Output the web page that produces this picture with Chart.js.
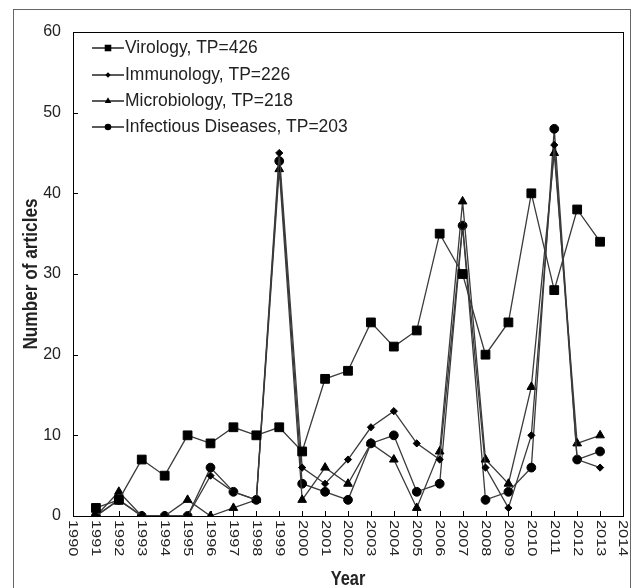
<!DOCTYPE html>
<html>
<head>
<meta charset="utf-8">
<script src="https://cdn.jsdelivr.net/npm/chart.js@4/dist/chart.umd.min.js"></script>
<style>
  body { margin: 0; background: #fff; }
  #wrap { position: relative; width: 633px; height: 588px; overflow: hidden; }
  #frame { position: absolute; left: 13px; top: 9px; width: 618px; height: 600px; border: 1px solid #666; box-sizing: border-box; }
  canvas { position: absolute; left: 0; top: 0; }
</style>
</head>
<body>
<div id="wrap">
  <div id="frame"></div>
  <canvas id="myChart" width="633" height="588"></canvas>
</div>
<script>
// values, one per year 1991..2013
const years = [1991, 1992, 1993, 1994, 1995, 1996, 1997, 1998, 1999, 2000, 2001, 2002,
  2003, 2004, 2005, 2006, 2007, 2008, 2009, 2010, 2011, 2012, 2013];
const virology     = [1, 2, 7, 5, 10, 9, 11, 10, 11, 8, 17, 18, 24, 21, 23, 35, 30, 20, 24, 40, 28, 38, 34];
const immunology   = [0, 2, 0, 0, 0, 5, 3, 2, 45, 6, 4, 7, 11, 13, 9, 7, 36, 6, 1, 10, 46, 7, 6];
const microbiology = [0, 3, 0, 0, 2, 0, 1, 2, 43, 2, 6, 4, 9, 7, 1, 8, 39, 7, 4, 16, 45, 9, 10];
const infectious   = [0, 2, 0, 0, 0, 6, 3, 2, 44, 4, 3, 2, 9, 10, 3, 4, 36, 2, 3, 6, 48, 7, 8];

const seriesLabels = ["Virology, TP=426", "Immunology, TP=226", "Microbiology, TP=218", "Infectious Diseases, TP=203"];
const xTickLabels = [];
for (let y = 1990; y <= 2014; y++) xTickLabels.push(String(y));
const yTicks = [0, 10, 20, 30, 40, 50, 60];

const FONT = '"Liberation Sans", Arial, sans-serif';

function pts(vals) {
  return vals.map((v, i) => ({ x: years[i], y: v }));
}

function series(label, vals, style, radius) {
  return {
    label: label,
    data: pts(vals),
    borderColor: '#3a3a3a',
    borderWidth: 1.3,
    pointStyle: style,
    pointRadius: radius,
    pointBackgroundColor: '#000',
    pointBorderColor: '#000',
    pointBorderWidth: 1,
    fill: false,
    tension: 0
  };
}

const decor = {
  id: 'decor',
  afterDraw(chart) {
    const ctx = chart.ctx;
    const a = chart.chartArea;
    const xs = chart.scales.x, ys = chart.scales.y;
    ctx.save();
    // plot box
    ctx.strokeStyle = '#000';
    ctx.lineWidth = 1;
    ctx.strokeRect(Math.round(a.left) + 0.5, Math.round(a.top) + 0.5, Math.round(a.right - a.left), Math.round(a.bottom - a.top));
    // inward ticks
    ctx.beginPath();
    xTickLabels.forEach(t => {
      const px = Math.round(xs.getPixelForValue(Number(t))) + 0.5;
      ctx.moveTo(px, a.bottom);
      ctx.lineTo(px, a.bottom - 5);
    });
    yTicks.forEach(t => {
      const py = Math.round(ys.getPixelForValue(t)) + 0.5;
      ctx.moveTo(a.left, py);
      ctx.lineTo(a.left + 5, py);
    });
    ctx.stroke();

    // x tick labels, rotated clockwise, glyphs a bit condensed
    ctx.fillStyle = '#222';
    ctx.font = '16px ' + FONT;
    ctx.textAlign = 'left';
    ctx.textBaseline = 'middle';
    xTickLabels.forEach(t => {
      const px = xs.getPixelForValue(Number(t));
      ctx.save();
      ctx.translate(px, a.bottom + 4);
      ctx.rotate(Math.PI / 2);
      ctx.scale(1.02, 0.8);
      ctx.fillText(t, 0, 0);
      ctx.restore();
    });

    // axis titles
    ctx.fillStyle = '#222';
    ctx.font = 'bold 21px ' + FONT;
    ctx.textAlign = 'center';
    ctx.textBaseline = 'middle';
    ctx.save();
    ctx.translate((a.left + a.right) / 2, 579);
    ctx.scale(0.78, 1);
    ctx.fillText('Year', 0, 0);
    ctx.restore();
    ctx.save();
    ctx.translate(31, (a.top + a.bottom) / 2);
    ctx.rotate(-Math.PI / 2);
    ctx.scale(0.82, 1);
    ctx.fillText('Number of articles', 0, 0);
    ctx.restore();

    // legend
    const rowY = [48, 75, 101, 127];
    chart.data.datasets.forEach((ds, i) => {
      const y = rowY[i];
      ctx.strokeStyle = '#000';
      ctx.lineWidth = 1.3;
      ctx.beginPath();
      ctx.moveTo(92, y);
      ctx.lineTo(124, y);
      ctx.stroke();
      ctx.fillStyle = '#000';
      Chart.helpers.drawPoint(ctx, { pointStyle: ds.pointStyle, radius: ds.pointRadius * 0.75, borderWidth: 0 }, 108, y);
      ctx.fillStyle = '#222';
      ctx.font = '18px ' + FONT;
      ctx.textAlign = 'left';
      ctx.save();
      ctx.translate(125, y);
      ctx.scale(0.97, 1);
      ctx.fillText(ds.label, 0, 0);
      ctx.restore();
    });
    ctx.restore();
  }
};

new Chart(document.getElementById('myChart'), {
  type: 'line',
  data: {
    datasets: [
      series(seriesLabels[0], virology, 'rect', 6.2),
      series(seriesLabels[1], immunology, 'rectRot', 3.6),
      series(seriesLabels[2], microbiology, 'triangle', 5),
      series(seriesLabels[3], infectious, 'circle', 4.4)
    ]
  },
  options: {
    responsive: false,
    animation: false,
    layout: { padding: { left: 0, top: 32, right: 10, bottom: 0 } },
    plugins: { legend: { display: false }, tooltip: { enabled: false } },
    scales: {
      x: {
        type: 'linear',
        min: 1990,
        max: 2014,
        grid: { display: false },
        border: { display: false },
        ticks: { display: false, stepSize: 1 },
        afterFit(scale) { scale.height = 72; }
      },
      y: {
        min: 0,
        max: 60,
        grid: { display: false },
        border: { display: false },
        ticks: {
          stepSize: 10,
          padding: 4,
          color: '#222',
          font: { family: FONT, size: 16 }
        },
        afterFit(scale) { scale.width = 73; }
      }
    }
  },
  plugins: [decor]
});
</script>
</body>
</html>
